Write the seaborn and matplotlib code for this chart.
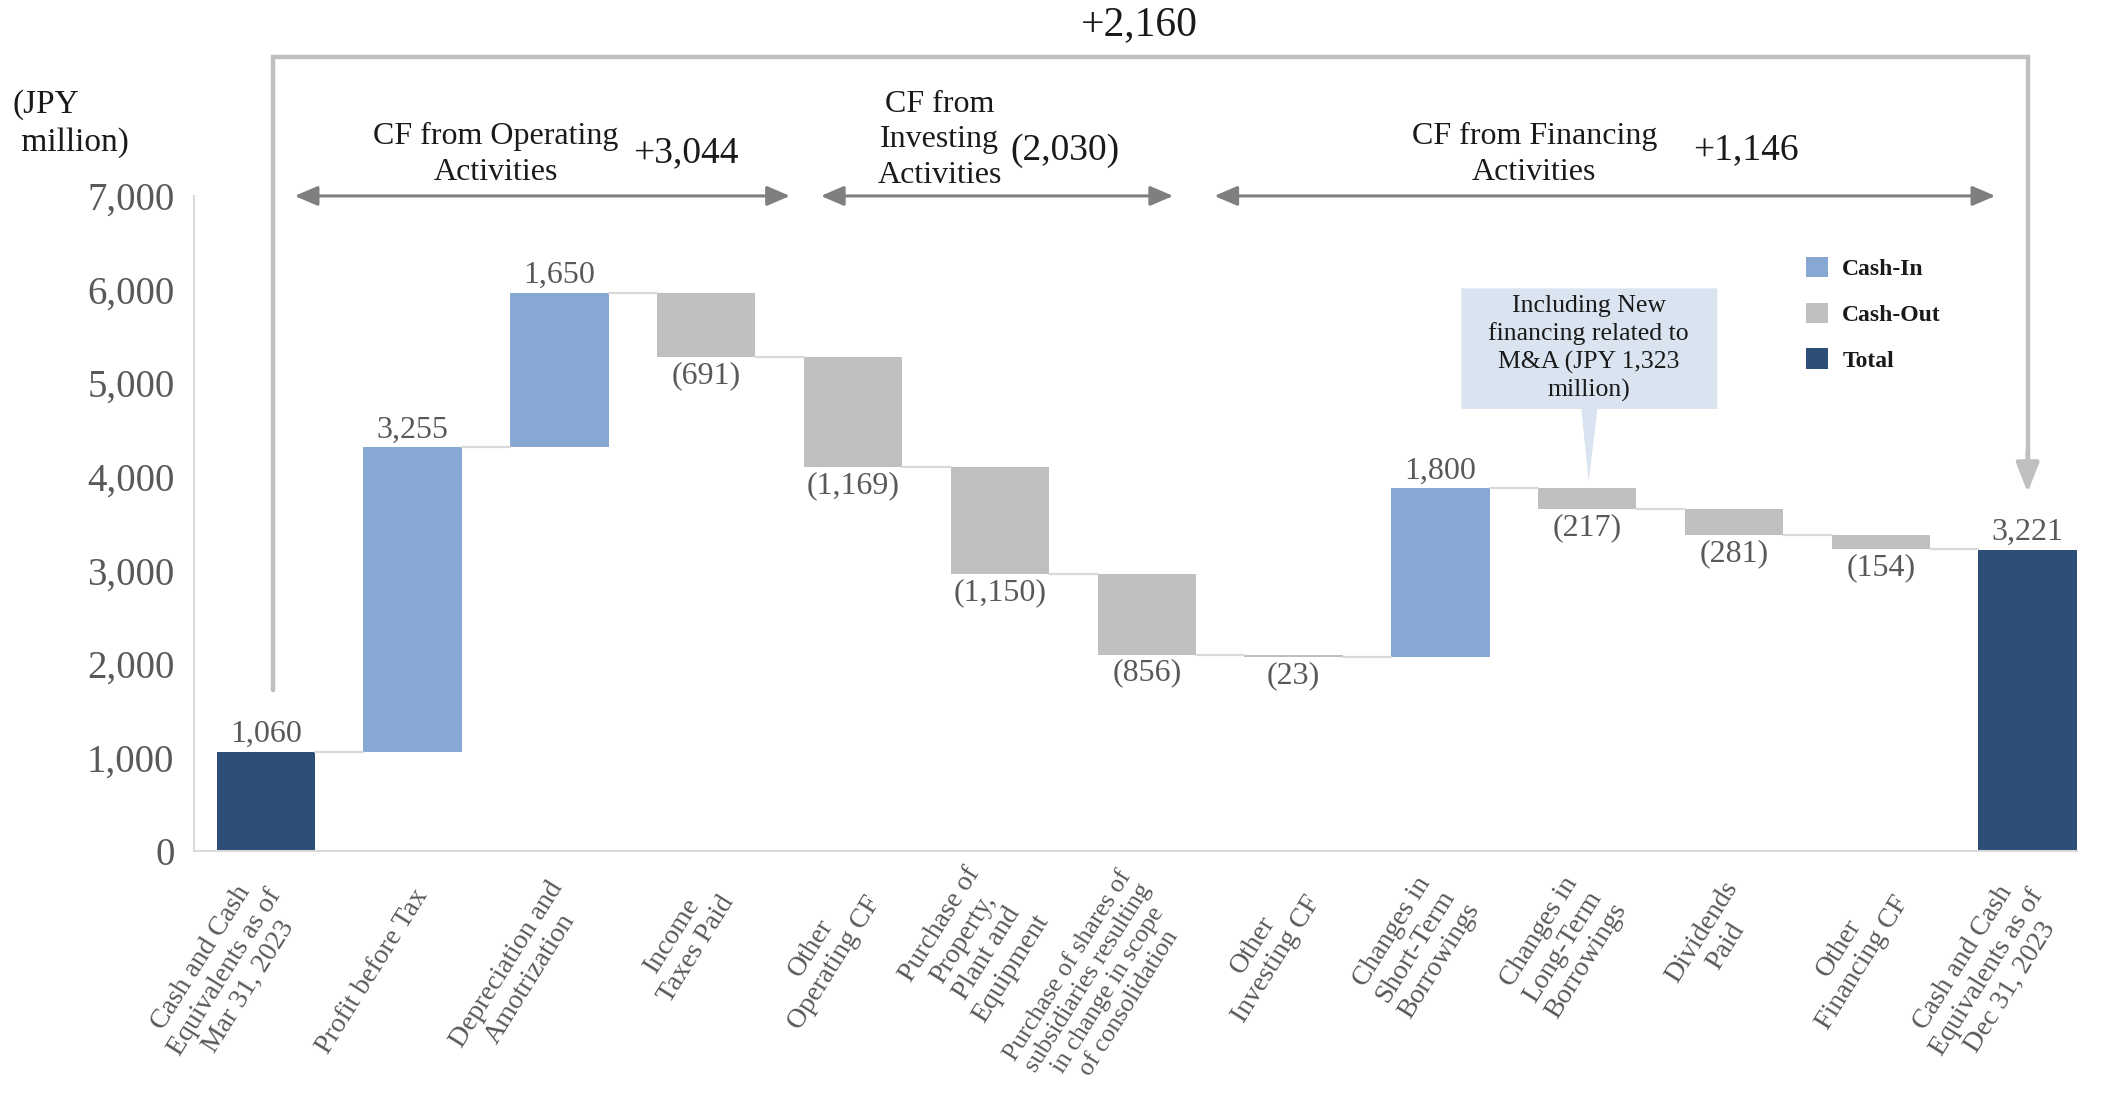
import numpy as np
import pandas as pd
import matplotlib
matplotlib.use("Agg")
import matplotlib.pyplot as plt
import matplotlib.transforms as mtransforms
from matplotlib.patches import Patch, Polygon
from matplotlib.ticker import FuncFormatter
import seaborn as sns

# ---- data -------------------------------------------------------------
categories = [
    "Cash and Cash\nEquivalents as of\nMar 31, 2023",
    "Profit before Tax",
    "Depreciation and\nAmotrization",
    "Income\nTaxes Paid",
    "Other\nOperating CF",
    "Purchase of\nProperty,\nPlant and\nEquipment",
    "Purchase of shares of\nsubsidiaries resulting\nin change in scope\nof consolidation",
    "Other\nInvesting CF",
    "Changes in\nShort-Term\nBorrowings",
    "Changes in\nLong-Term\nBorrowings",
    "Dividends\nPaid",
    "Other\nFinancing CF",
    "Cash and Cash\nEquivalents as of\nDec 31, 2023",
]
amounts = [1060, 3255, 1650, -691, -1169, -1150, -856, -23, 1800, -217, -281, -154, 3221]
kinds = ["Total", "Cash-In", "Cash-In", "Cash-Out", "Cash-Out", "Cash-Out", "Cash-Out",
         "Cash-Out", "Cash-In", "Cash-Out", "Cash-Out", "Cash-Out", "Total"]

section_names = ["CF from Operating\nActivities", "CF from\nInvesting\nActivities",
                 "CF from Financing\nActivities"]
section_totals = ["+3,044", "(2,030)", "+1,146"]
overall_change = "+2,160"
callout_text = "Including New\nfinancing related to\nM&A (JPY 1,323\nmillion)"

palette = {"Cash-In": "#86a8d3", "Cash-Out": "#bfbfbf", "Total": "#2d4e76"}

# ---- waterfall geometry -------------------------------------------------
bottoms, heights, levels = [], [], []
running = 0
for v, k in zip(amounts, kinds):
    if k == "Total":
        bottoms.append(0)
        heights.append(v)
        running = v
    else:
        bottoms.append(min(running, running + v))
        heights.append(abs(v))
        running += v
    levels.append(running)

df = pd.DataFrame({"idx": range(len(amounts)), "height": heights, "kind": kinds})

# ---- styling ------------------------------------------------------------
sns.set_theme(style="white")
plt.rcParams["font.family"] = ["Liberation Serif", "DejaVu Serif"]
GREY_TXT = "#595959"
DARK_TXT = "#1a1a1a"

fig = plt.figure(figsize=(21.01, 11.02), dpi=100)
ax = fig.add_axes([0.0923, 0.2278, 0.8962, 0.5944])

BAR_W = 0.67
sns.barplot(data=df, x="idx", y="height", hue="kind", palette=palette, dodge=False,
            width=BAR_W, saturation=1, legend=False, errorbar=None, ax=ax,
            linewidth=0)

# lift each bar to its floating base
for p in ax.patches:
    i = int(round(p.get_x() + p.get_width() / 2))
    p.set_y(bottoms[i])

ax.set_xlim(-0.49, 12.335)
ax.set_ylim(0, 7000)

# connectors between consecutive bars
for i in range(len(amounts) - 1):
    ax.plot([i + BAR_W / 2, i + 1 - BAR_W / 2], [levels[i], levels[i]],
            color="#d9d9d9", lw=1.6, zorder=1)

# value labels
for i, (v, k) in enumerate(zip(amounts, kinds)):
    txt = f"{v:,}" if v >= 0 else f"({-v:,})"
    if v >= 0:
        ax.annotate(txt, (i, bottoms[i] + heights[i]), xytext=(0, 2),
                    textcoords="offset points", ha="center", va="bottom",
                    fontsize=23, color=GREY_TXT)
    else:
        ax.annotate(txt, (i, bottoms[i]), xytext=(0, -3),
                    textcoords="offset points", ha="center", va="top",
                    fontsize=23, color=GREY_TXT)

# axes cosmetics
sns.despine(ax=ax)
for s in ["left", "bottom"]:
    ax.spines[s].set_color("#d9d9d9")
    ax.spines[s].set_linewidth(1.5)
ax.set_yticks(range(0, 7001, 1000))
ax.yaxis.set_major_formatter(FuncFormatter(lambda y, _: f"{int(y):,}"))
ax.tick_params(axis="y", length=0, pad=14, labelsize=28, labelcolor=GREY_TXT)
ax.set_xticks(range(len(categories)))
ax.set_xticklabels([])
ax.tick_params(axis="x", length=0)
ax.set_xlabel("")
ax.set_ylabel("")
ax.grid(False)

# rotated category labels, anchored just below each bar
label_tr = ax.get_xaxis_transform() + mtransforms.ScaledTranslation(
    10 / 100, -40 / 100, fig.dpi_scale_trans)
for i, cat in enumerate(categories):
    long_label = max(len(line) for line in cat.split("\n")) > 18
    ax.text(i, 0, cat, transform=label_tr, rotation=58, rotation_mode="anchor",
            ha="right", va="center", multialignment="center",
            fontsize=18.5 if long_label else 20,
            color=GREY_TXT, linespacing=1.1 if long_label else 1.15, clip_on=False)

# unit label
fig.text(0.006, 0.888, "(JPY\n million)", fontsize=24, color=DARK_TXT,
         ha="left", va="center", linespacing=1.3)

# overall change bracket
BR = "#bfbfbf"
ax.plot([0.05, 0.05, 12.0, 12.0], [1718, 8489, 8489, 4100], color=BR, lw=3.2,
        clip_on=False, solid_joinstyle="miter", zorder=3)
ax.annotate("", xy=(12.0, 3800), xytext=(12.0, 4300),
            arrowprops=dict(arrowstyle="-|>,head_length=0.9,head_width=0.35",
                            color=BR, lw=3.2, mutation_scale=20),
            annotation_clip=False)
ax.text(5.95, 8832, overall_change, fontsize=30, color=DARK_TXT,
        ha="center", va="center", clip_on=False)

# section spans
spans = [(0.196, 3.57), (3.78, 6.18), (6.46, 11.78)]
for x0, x1 in spans:
    ax.annotate("", xy=(x0, 7000), xytext=(x1, 7000),
                arrowprops=dict(arrowstyle="<|-|>,head_length=0.7,head_width=0.3",
                                color="#7f7f7f", lw=2.2, mutation_scale=20,
                                shrinkA=0, shrinkB=0),
                annotation_clip=False)

name_pos = [(1.565, 7440), (4.59, 7600), (8.64, 7440)]
total_pos = [(2.86, 7460), (5.44, 7487), (10.08, 7487)]
for name, (nx, ny), tot, (tx, ty) in zip(section_names, name_pos, section_totals, total_pos):
    ax.text(nx, ny, name, fontsize=23, color=DARK_TXT, ha="center", va="center",
            linespacing=1.3, clip_on=False)
    ax.text(tx, ty, tot, fontsize=27, color=DARK_TXT, ha="center", va="center",
            clip_on=False)

# callout
bx0, bx1, by0, by1 = 8.143, 9.886, 4724, 6012
callout = Polygon([(bx0, by1), (bx1, by1), (bx1, by0), (9.07, by0), (9.01, 3950),
                   (8.96, by0), (bx0, by0)], closed=True, facecolor="#dae3f0",
                  edgecolor="none", zorder=4)
ax.add_patch(callout)
ax.text(9.01, 5368, callout_text, fontsize=18.5, color=DARK_TXT, ha="center",
        va="center", linespacing=1.3, zorder=5)

# legend
handles = [Patch(facecolor=palette[k], edgecolor="none") for k in ["Cash-In", "Cash-Out", "Total"]]
leg = ax.legend(handles, ["Cash-In", "Cash-Out", "Total"], loc="upper left",
                bbox_to_anchor=(0.856, 0.907), frameon=False,
                prop={"weight": "bold", "size": 17}, handlelength=0.95,
                handleheight=0.95, handletextpad=0.6, labelspacing=0.95,
                borderpad=0, borderaxespad=0)
for t in leg.get_texts():
    t.set_color(DARK_TXT)

fig.savefig("out.png", dpi=100)
